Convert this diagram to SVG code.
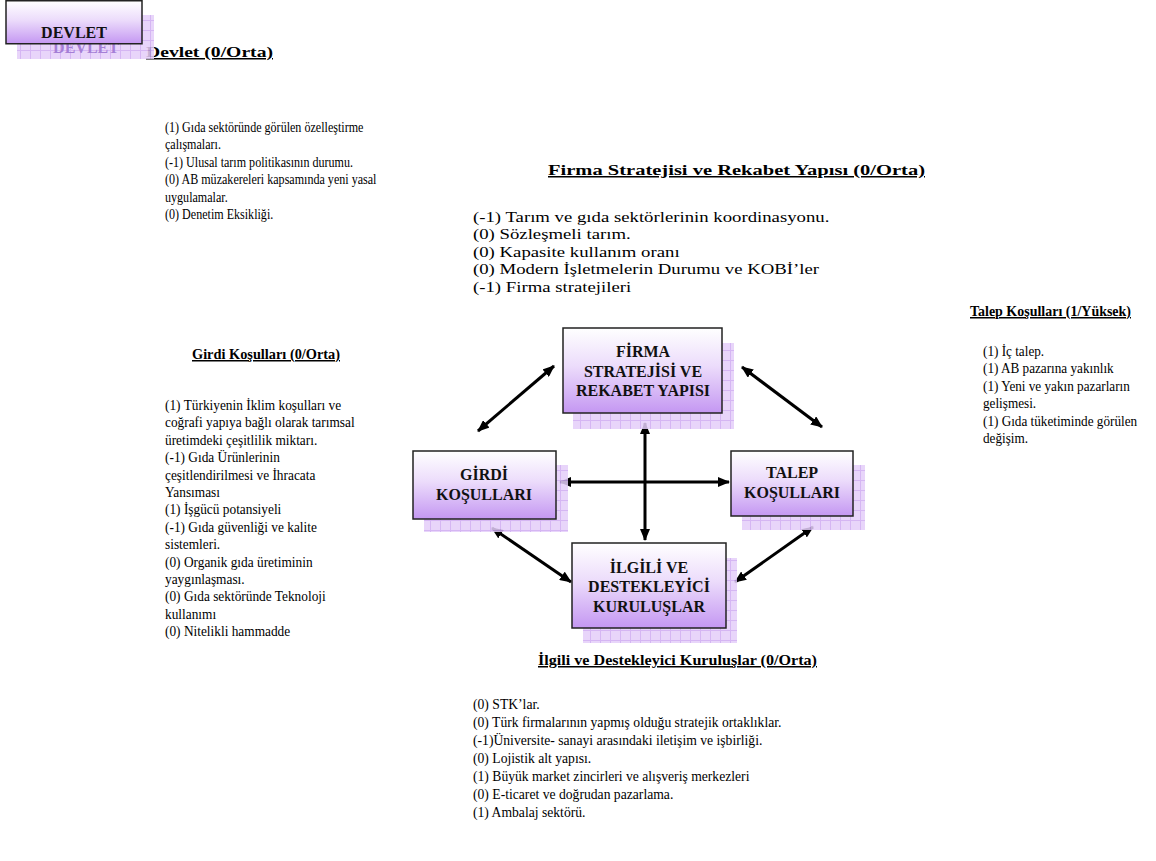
<svg xmlns="http://www.w3.org/2000/svg" width="1156" height="861" viewBox="0 0 1156 861">
<defs>
<linearGradient id="boxg" x1="0" y1="0" x2="0" y2="1">
<stop offset="0" stop-color="#ffffff"/>
<stop offset="0.45" stop-color="#ecdcfb"/>
<stop offset="1" stop-color="#c497f2"/>
</linearGradient>
<pattern id="grid" width="10" height="10" patternUnits="userSpaceOnUse">
<rect width="10" height="10" fill="#e4cef9"/>
<path d="M0 0.5H10M0.5 0V10" stroke="#cda9f1" stroke-width="1"/>
</pattern>
<marker id="ah" viewBox="0 0 12 10" refX="11" refY="5" markerWidth="12" markerHeight="10" markerUnits="userSpaceOnUse" orient="auto-start-reverse">
<path d="M0 0L12 5L0 10Z" fill="#000"/>
</marker>
<style>
.t{font-family:"Liberation Serif","Times New Roman",serif;font-size:15px;fill:#000}
.h{font-family:"Liberation Serif","Times New Roman",serif;font-size:15px;font-weight:bold;text-decoration:underline;fill:#000}
.bt{font-family:"Liberation Serif","Times New Roman",serif;font-size:16px;font-weight:bold;fill:#111;text-anchor:middle}
.st{font-family:"Liberation Serif","Times New Roman",serif;font-size:16px;font-weight:bold;fill:#a57fd6;text-anchor:middle}
.box{fill:url(#boxg);stroke:#222;stroke-width:1.5}
.sh{fill:url(#grid);opacity:0.85}
.ar{stroke:#000;stroke-width:3;fill:none;marker-start:url(#ah);marker-end:url(#ah)}
</style>
</defs>
<rect width="1156" height="861" fill="#fff"/>

<g id="texts">
<text class="h" x="146" y="57" textLength="127" lengthAdjust="spacingAndGlyphs">Devlet (0/Orta)</text>
<g transform="translate(165,0) scale(0.805,1)">
<text class="t" x="0" y="132">(1) Gıda sektöründe görülen özelleştirme</text>
<text class="t" x="0" y="149.5">çalışmaları.</text>
<text class="t" x="0" y="167">(-1) Ulusal tarım politikasının durumu.</text>
<text class="t" x="0" y="184.5">(0) AB müzakereleri kapsamında yeni yasal</text>
<text class="t" x="0" y="202">uygulamalar.</text>
<text class="t" x="0" y="219.5">(0) Denetim Eksikliği.</text>
</g>

<text class="h" x="548" y="175" textLength="377" lengthAdjust="spacingAndGlyphs">Firma Stratejisi ve Rekabet Yapısı (0/Orta)</text>
<g transform="translate(473,0) scale(1.25,1)">
<text class="t" x="0" y="222">(-1) Tarım ve gıda sektörlerinin koordinasyonu.</text>
<text class="t" x="0" y="239.5">(0) Sözleşmeli tarım.</text>
<text class="t" x="0" y="257">(0) Kapasite kullanım oranı</text>
<text class="t" x="0" y="274.5">(0) Modern İşletmelerin Durumu ve KOBİ’ler</text>
<text class="t" x="0" y="292">(-1) Firma stratejileri</text>
</g>

<text class="h" x="970" y="316" textLength="161" lengthAdjust="spacingAndGlyphs">Talep Koşulları (1/Yüksek)</text>
<g transform="translate(983,0) scale(0.88,1)">
<text class="t" x="0" y="356">(1) İç talep.</text>
<text class="t" x="0" y="373.5">(1) AB pazarına yakınlık</text>
<text class="t" x="0" y="391">(1) Yeni ve yakın pazarların</text>
<text class="t" x="0" y="408.5">gelişmesi.</text>
<text class="t" x="0" y="426">(1) Gıda tüketiminde görülen</text>
<text class="t" x="0" y="443.5">değişim.</text>
</g>

<text class="h" x="192" y="359" textLength="148" lengthAdjust="spacingAndGlyphs">Girdi Koşulları (0/Orta)</text>
<g transform="translate(165,0) scale(0.89,1)">
<text class="t" x="0" y="410">(1) Türkiyenin İklim koşulları ve</text>
<text class="t" x="0" y="427.4">coğrafi yapıya bağlı olarak tarımsal</text>
<text class="t" x="0" y="444.8">üretimdeki çeşitlilik miktarı.</text>
<text class="t" x="0" y="462.2">(-1) Gıda Ürünlerinin</text>
<text class="t" x="0" y="479.6">çeşitlendirilmesi ve İhracata</text>
<text class="t" x="0" y="497">Yansıması</text>
<text class="t" x="0" y="514.4">(1) İşgücü potansiyeli</text>
<text class="t" x="0" y="531.8">(-1) Gıda güvenliği ve kalite</text>
<text class="t" x="0" y="549.2">sistemleri.</text>
<text class="t" x="0" y="566.6">(0) Organik gıda üretiminin</text>
<text class="t" x="0" y="584">yaygınlaşması.</text>
<text class="t" x="0" y="601.4">(0) Gıda sektöründe Teknoloji</text>
<text class="t" x="0" y="618.8">kullanımı</text>
<text class="t" x="0" y="636.2">(0) Nitelikli hammadde</text>
</g>

<text class="h" x="538" y="665" textLength="279" lengthAdjust="spacingAndGlyphs">İlgili ve Destekleyici Kuruluşlar (0/Orta)</text>
<g transform="translate(473,0) scale(0.91,1)">
<text class="t" x="0" y="709">(0) STK’lar.</text>
<text class="t" x="0" y="727">(0) Türk firmalarının yapmış olduğu stratejik ortaklıklar.</text>
<text class="t" x="0" y="745">(-1)Üniversite- sanayi arasındaki iletişim ve işbirliği.</text>
<text class="t" x="0" y="763">(0) Lojistik alt yapısı.</text>
<text class="t" x="0" y="781">(1) Büyük market zincirleri ve alışveriş merkezleri</text>
<text class="t" x="0" y="799">(0) E-ticaret ve doğrudan pazarlama.</text>
<text class="t" x="0" y="817">(1) Ambalaj sektörü.</text>
</g>
</g>

<g id="connectors">
<line class="ar" x1="478" y1="431" x2="554" y2="366"/>
<line class="ar" x1="742" y1="367" x2="822" y2="427"/>
<line class="ar" x1="645" y1="423" x2="645" y2="540"/>
<line class="ar" x1="560" y1="482" x2="729" y2="482"/>
<line class="ar" x1="492" y1="528" x2="571" y2="582"/>
<line class="ar" x1="813" y1="527" x2="735" y2="582"/>
</g>

<g id="devlet">
<rect class="sh" x="17" y="15" width="137" height="44"/>
<text class="st" x="86" y="53">DEVLET</text>
<rect class="box" x="6" y="0.75" width="136" height="43"/>
<text class="bt" x="74" y="38">DEVLET</text>
</g>

<g id="firma">
<rect class="sh" x="573" y="343" width="161" height="86"/>
<rect class="box" x="563" y="328" width="159" height="85"/>
<text class="bt" x="643" y="357">FİRMA</text>
<text class="bt" x="643" y="377">STRATEJİSİ VE</text>
<text class="bt" x="643" y="396">REKABET YAPISI</text>
</g>

<g id="girdi">
<rect class="sh" x="424" y="465" width="144" height="67"/>
<rect class="box" x="413" y="451" width="143" height="68"/>
<text class="bt" x="484" y="480">GİRDİ</text>
<text class="bt" x="484" y="500">KOŞULLARI</text>
</g>

<g id="talep">
<rect class="sh" x="742" y="465" width="123" height="65"/>
<rect class="box" x="731" y="451" width="122" height="65"/>
<text class="bt" x="792" y="478">TALEP</text>
<text class="bt" x="792" y="498">KOŞULLARI</text>
</g>

<g id="ilgili">
<rect class="sh" x="583" y="558" width="154" height="85"/>
<rect class="box" x="572" y="543" width="154" height="85"/>
<text class="bt" x="649" y="573">İLGİLİ VE</text>
<text class="bt" x="649" y="592">DESTEKLEYİCİ</text>
<text class="bt" x="649" y="612">KURULUŞLAR</text>
</g>
</svg>
